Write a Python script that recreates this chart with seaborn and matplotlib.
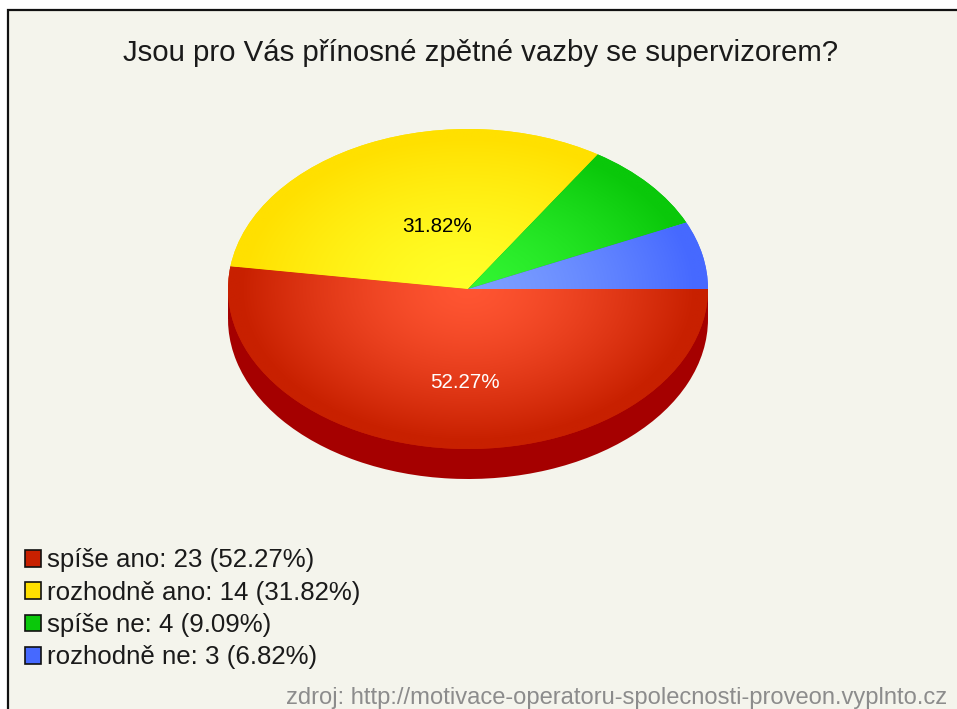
import numpy as np
import matplotlib
matplotlib.use("Agg")
import matplotlib.pyplot as plt
from matplotlib.colors import LinearSegmentedColormap
from matplotlib.patches import Patch, Rectangle
import seaborn as sns

title = "Jsou pro Vás přínosné zpětné vazby se supervizorem?"
source = "zdroj: http://motivace-operatoru-spolecnosti-proveon.vyplnto.cz"
categories = ["spíše ano", "rozhodně ano", "spíše ne", "rozhodně ne"]
counts = [23, 14, 4, 3]
percents = ["52.27%", "31.82%", "9.09%", "6.82%"]

edge_colors = ["#C82000", "#FFE000", "#0AC80A", "#4669FF"]
center_colors = ["#FF5532", "#FFFF28", "#32F532", "#7DA0FF"]
side_color = "#A50000"
bg_color = "#F4F4EC"

sns.set_theme(style="white")
plt.rcParams['font.family'] = ['Liberation Sans', 'DejaVu Sans']

W, H = 957, 709
fig = plt.figure(figsize=(W / 100, H / 100), dpi=100, facecolor="white")

# whole figure in pixels, for the frame and the texts
bg = fig.add_axes([0, 0, 1, 1], zorder=0)
bg.set_xlim(0, W)
bg.set_ylim(H, 0)
bg.axis("off")
bg.add_patch(Rectangle((8, 10), W, H, facecolor=bg_color, edgecolor="#111111", linewidth=1.6))
bg.text(481, 53, title, fontsize=21.2, color="#1a1a1a", ha="center", va="center")
bg.text(947, 698, source, fontsize=17.1, color="#8c8c8c", ha="right", va="center")

# pie axes: x 228..708, top 129, top ellipse bottom 449, side down to 479
depth = 30 / 160
ax = fig.add_axes([228 / W, 1 - 479 / H, 480 / W, 350 / H], zorder=1)
ax.pie(counts, colors=[side_color] * 4, center=(0, -depth), radius=1, startangle=0,
       counterclock=False, wedgeprops={"linewidth": 0})
ax.add_patch(Rectangle((-1, -depth), 2, depth, facecolor=side_color, edgecolor="none"))
wedges, _ = ax.pie(counts, colors=edge_colors, radius=1, startangle=0, counterclock=False,
                   wedgeprops={"linewidth": 0})

# radial shading, light at the centre
gx, gy = np.meshgrid(np.linspace(-1, 1, 500), np.linspace(-1, 1, 500))
rad = np.clip(np.hypot(gx, gy) / 0.95, 0, 1) ** 1.4
for wedge, c0, c1 in zip(wedges, center_colors, edge_colors):
    cmap = LinearSegmentedColormap.from_list("shade", [c0, c1])
    im = ax.imshow(rad, cmap=cmap, extent=(-1, 1, -1, 1), origin="lower",
                   aspect="auto", vmin=0, vmax=1, zorder=2)
    im.set_clip_path(wedge)

ax.set_aspect("auto")
ax.set_xlim(-1, 1)
ax.set_ylim(-1 - depth, 1)
ax.axis("off")

# labels and legend on top of the pie
top = fig.add_axes([0, 0, 1, 1], zorder=2)
top.set_xlim(0, W)
top.set_ylim(H, 0)
top.axis("off")
top.text(437, 227, percents[1], fontsize=14.9, color="black", ha="center", va="center")
top.text(465, 382, percents[0], fontsize=14.9, color="white", ha="center", va="center")

handles = [Patch(facecolor=c, edgecolor="#111111", linewidth=1.2) for c in edge_colors]
legend_labels = [f"{c}: {n} ({p})" for c, n, p in zip(categories, counts, percents)]
top.legend(handles, legend_labels, loc="upper left", bbox_to_anchor=(25 / W, 1 - 548.5 / H),
           bbox_transform=fig.transFigure, frameon=False, fontsize=18.6, labelcolor="#1a1a1a",
           handlelength=0.62, handleheight=0.62, handletextpad=0.23, labelspacing=0.32,
           borderpad=0, borderaxespad=0)

fig.savefig("out.png", dpi=100)
